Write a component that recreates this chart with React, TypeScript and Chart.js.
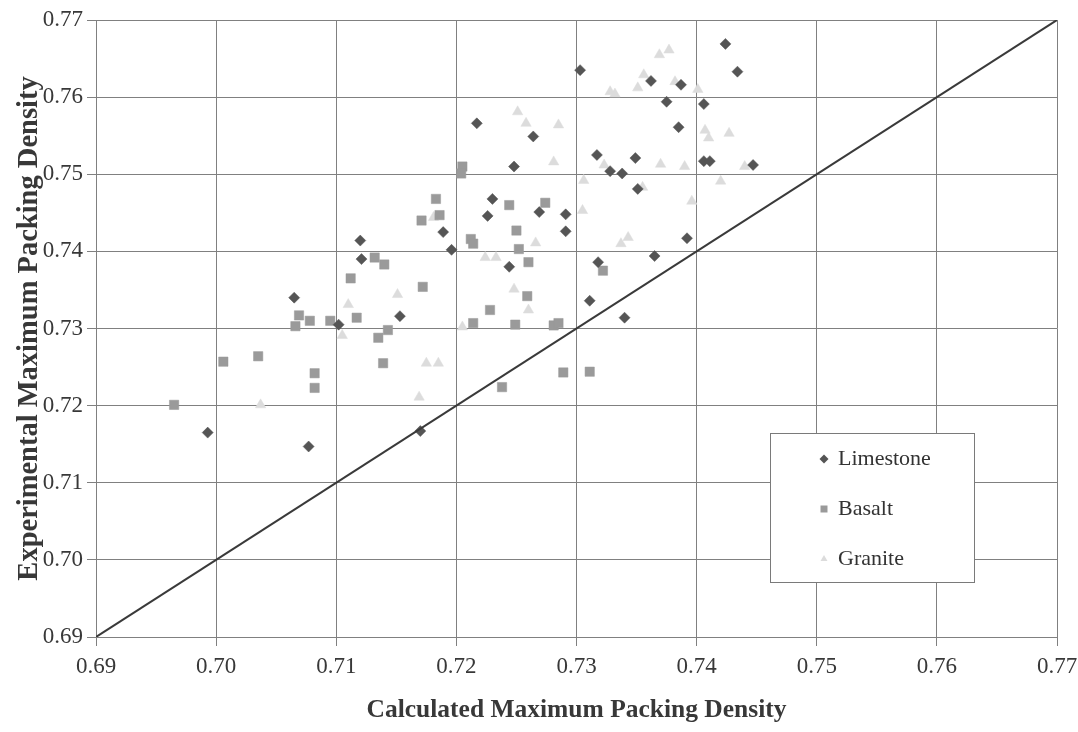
import React, { useEffect, useRef } from "react";
import { Chart, registerables } from "chart.js";

Chart.register(...registerables);

// Axis ticks (both axes share the same range)
const TICK_VALUES = [0.69, 0.7, 0.71, 0.72, 0.73, 0.74, 0.75, 0.76, 0.77];
const TICK_LABELS = ["0.69", "0.70", "0.71", "0.72", "0.73", "0.74", "0.75", "0.76", "0.77"];

// Calculated (x) vs experimental (y) maximum packing density
const limestoneX = [0.6993, 0.7077, 0.7065, 0.7102, 0.712, 0.7121, 0.7153, 0.717, 0.7189, 0.7196, 0.7217, 0.723, 0.7226, 0.7248, 0.7264, 0.7269, 0.7244, 0.7291, 0.7291, 0.7303, 0.7318, 0.7311, 0.7317, 0.7328, 0.7338, 0.7349, 0.7351, 0.734, 0.7362, 0.7365, 0.7375, 0.7387, 0.7385, 0.7392, 0.7406, 0.7406, 0.7411, 0.7424, 0.7434, 0.7447];
const limestoneY = [0.7165, 0.7147, 0.734, 0.7305, 0.7414, 0.739, 0.7316, 0.7167, 0.7425, 0.7402, 0.7566, 0.7468, 0.7446, 0.751, 0.7549, 0.7451, 0.738, 0.7448, 0.7426, 0.7635, 0.7386, 0.7336, 0.7525, 0.7504, 0.7501, 0.7521, 0.7481, 0.7314, 0.7621, 0.7394, 0.7594, 0.7616, 0.7561, 0.7417, 0.7591, 0.7517, 0.7517, 0.7669, 0.7633, 0.7512];

const basaltX = [0.6965, 0.7006, 0.7035, 0.7066, 0.7069, 0.7078, 0.7082, 0.7082, 0.7095, 0.7112, 0.7117, 0.7132, 0.714, 0.7135, 0.7143, 0.7139, 0.7172, 0.7171, 0.7183, 0.7186, 0.7205, 0.7204, 0.7212, 0.7214, 0.7214, 0.7228, 0.7238, 0.7244, 0.725, 0.7252, 0.7249, 0.726, 0.7259, 0.7274, 0.7281, 0.7285, 0.7289, 0.7311, 0.7322];
const basaltY = [0.7201, 0.7257, 0.7264, 0.7303, 0.7317, 0.731, 0.7242, 0.7223, 0.731, 0.7365, 0.7314, 0.7392, 0.7383, 0.7288, 0.7298, 0.7255, 0.7354, 0.744, 0.7468, 0.7447, 0.751, 0.7501, 0.7416, 0.741, 0.7307, 0.7324, 0.7224, 0.746, 0.7427, 0.7403, 0.7305, 0.7386, 0.7342, 0.7463, 0.7304, 0.7307, 0.7243, 0.7244, 0.7375];

const graniteX = [0.7037, 0.7105, 0.711, 0.7151, 0.7169, 0.7175, 0.7185, 0.7181, 0.7205, 0.7224, 0.7233, 0.7248, 0.726, 0.7266, 0.7251, 0.7258, 0.7285, 0.7281, 0.7306, 0.7305, 0.7323, 0.7328, 0.7332, 0.7337, 0.7343, 0.7351, 0.7355, 0.7356, 0.7369, 0.7377, 0.737, 0.7382, 0.739, 0.7396, 0.7401, 0.7407, 0.741, 0.742, 0.7427, 0.744];
const graniteY = [0.7201, 0.7291, 0.7331, 0.7344, 0.7211, 0.7255, 0.7255, 0.7444, 0.7302, 0.7392, 0.7392, 0.7351, 0.7324, 0.7411, 0.7581, 0.7566, 0.7564, 0.7516, 0.7492, 0.7453, 0.7512, 0.7607, 0.7604, 0.741, 0.7418, 0.7612, 0.7483, 0.7629, 0.7655, 0.7661, 0.7513, 0.762, 0.751, 0.7465, 0.761, 0.7557, 0.7547, 0.7491, 0.7553, 0.751];

// Line of equality
const equalityLine = [0.69, 0.77];

const SERIES = [
  { label: "Limestone", xs: limestoneX, ys: limestoneY, style: "rectRot", color: "#555555", radius: 5.5, order: 1 },
  { label: "Basalt", xs: basaltX, ys: basaltY, style: "rect", color: "#9a9a9a", radius: 6.6, order: 2 },
  { label: "Granite", xs: graniteX, ys: graniteY, style: "triangle", color: "#dcdcdc", radius: 6, order: 3 },
];

const SERIF = "'Liberation Serif', 'Times New Roman', serif";
const GRID = "#808080";

// Legend box drawn inside the plot, lower right
const legendBox = {
  id: "legendBox",
  afterDraw(chart: any) {
    const { ctx, chartArea } = chart;
    const x = chartArea.right - 287;
    const y = chartArea.top + 413;
    const w = 204;
    const h = 149;
    ctx.save();
    ctx.fillStyle = "#ffffff";
    ctx.fillRect(x, y, w, h);
    ctx.strokeStyle = "#7a7a7a";
    ctx.lineWidth = 1;
    ctx.strokeRect(x + 0.5, y + 0.5, w, h);
    ctx.font = `22px ${SERIF}`;
    ctx.textBaseline = "middle";
    ctx.textAlign = "left";
    SERIES.forEach((s, i) => {
      const cy = y + 26 + i * 50;
      const mx = x + 54;
      ctx.fillStyle = s.color;
      ctx.beginPath();
      if (s.style === "rectRot") {
        const r = 4.5;
        ctx.moveTo(mx, cy - r);
        ctx.lineTo(mx + r, cy);
        ctx.lineTo(mx, cy + r);
        ctx.lineTo(mx - r, cy);
        ctx.closePath();
      } else if (s.style === "rect") {
        ctx.rect(mx - 3.5, cy - 3.5, 7, 7);
      } else {
        const r = 4;
        ctx.moveTo(mx, cy - r);
        ctx.lineTo(mx + r * 0.87, cy + r * 0.5);
        ctx.lineTo(mx - r * 0.87, cy + r * 0.5);
        ctx.closePath();
      }
      ctx.fill();
      ctx.fillStyle = "#333333";
      ctx.fillText(s.label, x + 68, cy);
    });
    ctx.restore();
  },
};

export default function App() {
  const canvasRef = useRef<HTMLCanvasElement | null>(null);

  useEffect(() => {
    document.body.style.margin = "0";
    const canvas = canvasRef.current;
    if (!canvas) return;

    const pointSets = SERIES.map((s) => ({
      label: s.label,
      data: s.xs.map((x, i) => ({ x, y: s.ys[i] })),
      pointStyle: s.style,
      pointRadius: s.radius,
      pointBackgroundColor: s.color,
      pointBorderColor: s.color,
      pointBorderWidth: 0.5,
      showLine: false,
      order: s.order,
    }));

    const chart = new Chart(canvas, {
      type: "scatter",
      data: {
        datasets: [
          {
            label: "Equality",
            data: equalityLine.map((v) => ({ x: v, y: v })),
            showLine: true,
            borderColor: "#3a3a3a",
            borderWidth: 2,
            pointRadius: 0,
            order: 0,
          },
          ...pointSets,
        ] as any,
      },
      options: {
        animation: false,
        responsive: true,
        maintainAspectRatio: false,
        layout: { padding: { top: 20, right: 21, bottom: 0, left: 0 } },
        plugins: {
          legend: { display: false },
          tooltip: { enabled: false },
        },
        scales: {
          x: {
            type: "linear",
            min: 0.69,
            max: 0.77,
            afterBuildTicks: (axis: any) => {
              axis.ticks = TICK_VALUES.map((value) => ({ value }));
            },
            afterFit: (axis: any) => {
              axis.height = 95;
              axis.paddingLeft = 0;
              axis.paddingRight = 0;
            },
            ticks: {
              callback: (_v: any, i: number) => TICK_LABELS[i],
              font: { family: SERIF, size: 23 },
              color: "#383838",
              padding: 7,
              maxRotation: 0,
            },
            grid: { color: GRID, lineWidth: 1, tickLength: 9 },
            border: { color: GRID, width: 1 },
            title: {
              display: true,
              text: "Calculated Maximum Packing Density",
              font: { family: SERIF, size: 25.5, weight: "bold" },
              color: "#383838",
              padding: { top: 0, bottom: 6 },
            },
          },
          y: {
            type: "linear",
            min: 0.69,
            max: 0.77,
            afterBuildTicks: (axis: any) => {
              axis.ticks = TICK_VALUES.map((value) => ({ value }));
            },
            afterFit: (axis: any) => {
              axis.width = 96;
            },
            ticks: {
              callback: (_v: any, i: number) => TICK_LABELS[i],
              font: { family: SERIF, size: 23 },
              color: "#383838",
              padding: 4,
            },
            grid: { color: GRID, lineWidth: 1, tickLength: 9 },
            border: { color: GRID, width: 1 },
            title: {
              display: true,
              text: "Experimental Maximum Packing Density",
              font: { family: SERIF, size: 28.5, weight: "bold" },
              color: "#383838",
              padding: { top: 13, bottom: 0 },
            },
          },
        },
      },
      plugins: [legendBox],
    });

    return () => chart.destroy();
  }, []);

  return (
    <div style={{ position: "relative", width: 1078, height: 732 }}>
      <canvas ref={canvasRef} />
    </div>
  );
}
